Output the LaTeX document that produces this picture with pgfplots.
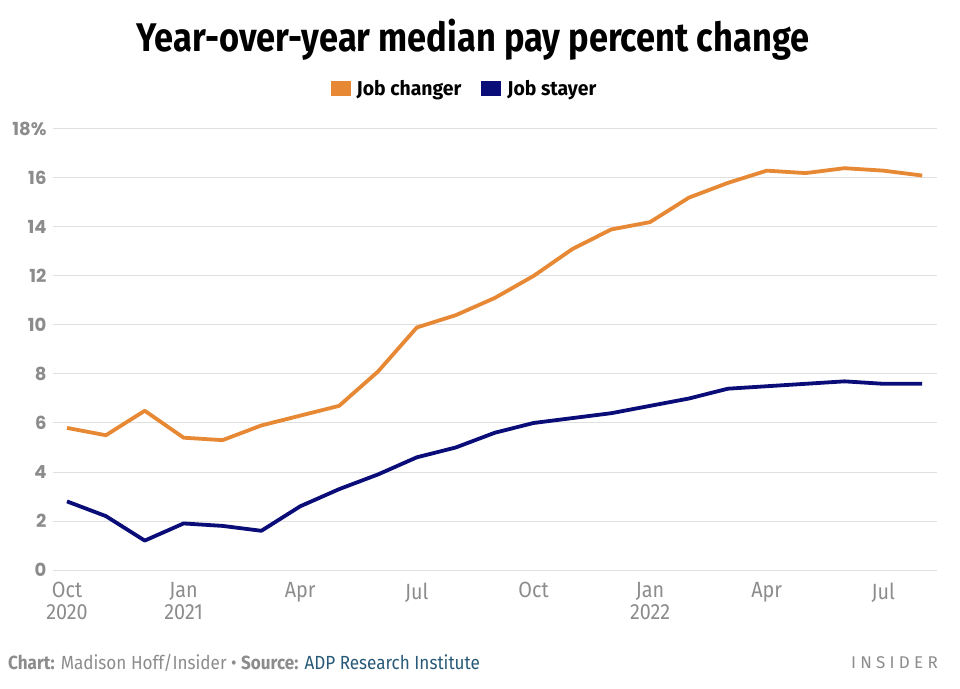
\documentclass[border=0pt]{standalone}
\usepackage{pgfplots}
\pgfplotsset{compat=1.18}
\usepackage{fontspec}
\setmainfont{Fira Sans}
\newfontfamily\condT[FakeStretch=0.86]{Fira Sans}
\newfontfamily\condX[FakeStretch=0.9]{Fira Sans}
\newfontfamily\condL[FakeStretch=0.97]{Fira Sans}
\newfontfamily\popp{Poppins}
\newfontfamily\spaced[LetterSpace=25]{Fira Sans}
\definecolor{chg}{RGB}{230,136,52}
\definecolor{sty}{RGB}{10,12,120}
\definecolor{tickc}{RGB}{140,140,140}
\definecolor{gridc}{RGB}{224,224,224}
\definecolor{srcc}{RGB}{40,90,120}
\begin{document}
\begin{tikzpicture}[x=1pt,y=1pt]
\path (0,0) rectangle (960,688);
\node at (473,648) {\condT\bfseries\fontsize{40}{44}\selectfont Year-over-year median pay percent change};
\begin{axis}[
  at={(53pt,118pt)}, anchor=south west,
  scale only axis, width=884pt, height=441pt,
  xmin=-0.36, xmax=22.38, ymin=0, ymax=18,
  ytick={0,2,...,18},
  yticklabels={0,2,4,6,8,10,12,14,16,18\%},
  xtick={0,3,6,9,12,15,18,21},
  xticklabels={{Oct\\2020},{Jan\\2021},{Apr},{Jul},{Oct},{Jan\\2022},{Apr},{Jul}},
  axis line style={draw=none},
  ymajorgrids,
  grid style={gridc, line width=1pt},
  major tick length=0pt,
  yticklabel style={font=\popp\bfseries\fontsize{18}{20}\selectfont, text=tickc, anchor=east, xshift=-3pt},
  xticklabel style={font=\condX\fontsize{22}{22}\selectfont, text=tickc, align=center, anchor=north, yshift=-9pt},
  legend columns=2,
  legend style={at={(0.4655,1.0907)}, anchor=center, draw=none, fill=none,
    font=\condL\bfseries\fontsize{20}{22}\selectfont,
    /tikz/every even column/.append style={column sep=18pt},
    /tikz/every odd column/.append style={column sep=4pt}},
  legend image code/.code={\fill[#1, draw=none] (0pt,-7.5pt) rectangle (20pt,7.5pt);},
]
\addplot[chg, line width=3.8pt, line join=round] coordinates {
(0,5.8)(1,5.5)(2,6.5)(3,5.4)(4,5.3)(5,5.9)(6,6.3)(7,6.7)(8,8.1)(9,9.9)(10,10.4)(11,11.1)
(12,12.0)(13,13.1)(14,13.9)(15,14.2)(16,15.2)(17,15.8)(18,16.3)(19,16.2)(20,16.4)(21,16.3)(22,16.1)};
\addlegendentry{Job changer}
\addplot[sty, line width=3.8pt, line join=round] coordinates {
(0,2.8)(1,2.2)(2,1.2)(3,1.9)(4,1.8)(5,1.6)(6,2.6)(7,3.3)(8,3.9)(9,4.6)(10,5.0)(11,5.6)
(12,6.0)(13,6.2)(14,6.4)(15,6.7)(16,7.0)(17,7.4)(18,7.5)(19,7.6)(20,7.7)(21,7.6)(22,7.6)};
\addlegendentry{Job stayer}
\end{axis}
\node[anchor=west, inner sep=0pt] at (8,25) {\condX\fontsize{19}{22}\selectfont\color{tickc}\textbf{Chart:} Madison Hoff/Insider \textbullet{} \textbf{Source:} \textcolor{srcc}{ADP Research Institute}};
\node[anchor=east, inner sep=0pt] at (938,25) {\spaced\fontsize{17}{20}\selectfont\color{tickc}INSIDER};
\end{tikzpicture}
\end{document}
